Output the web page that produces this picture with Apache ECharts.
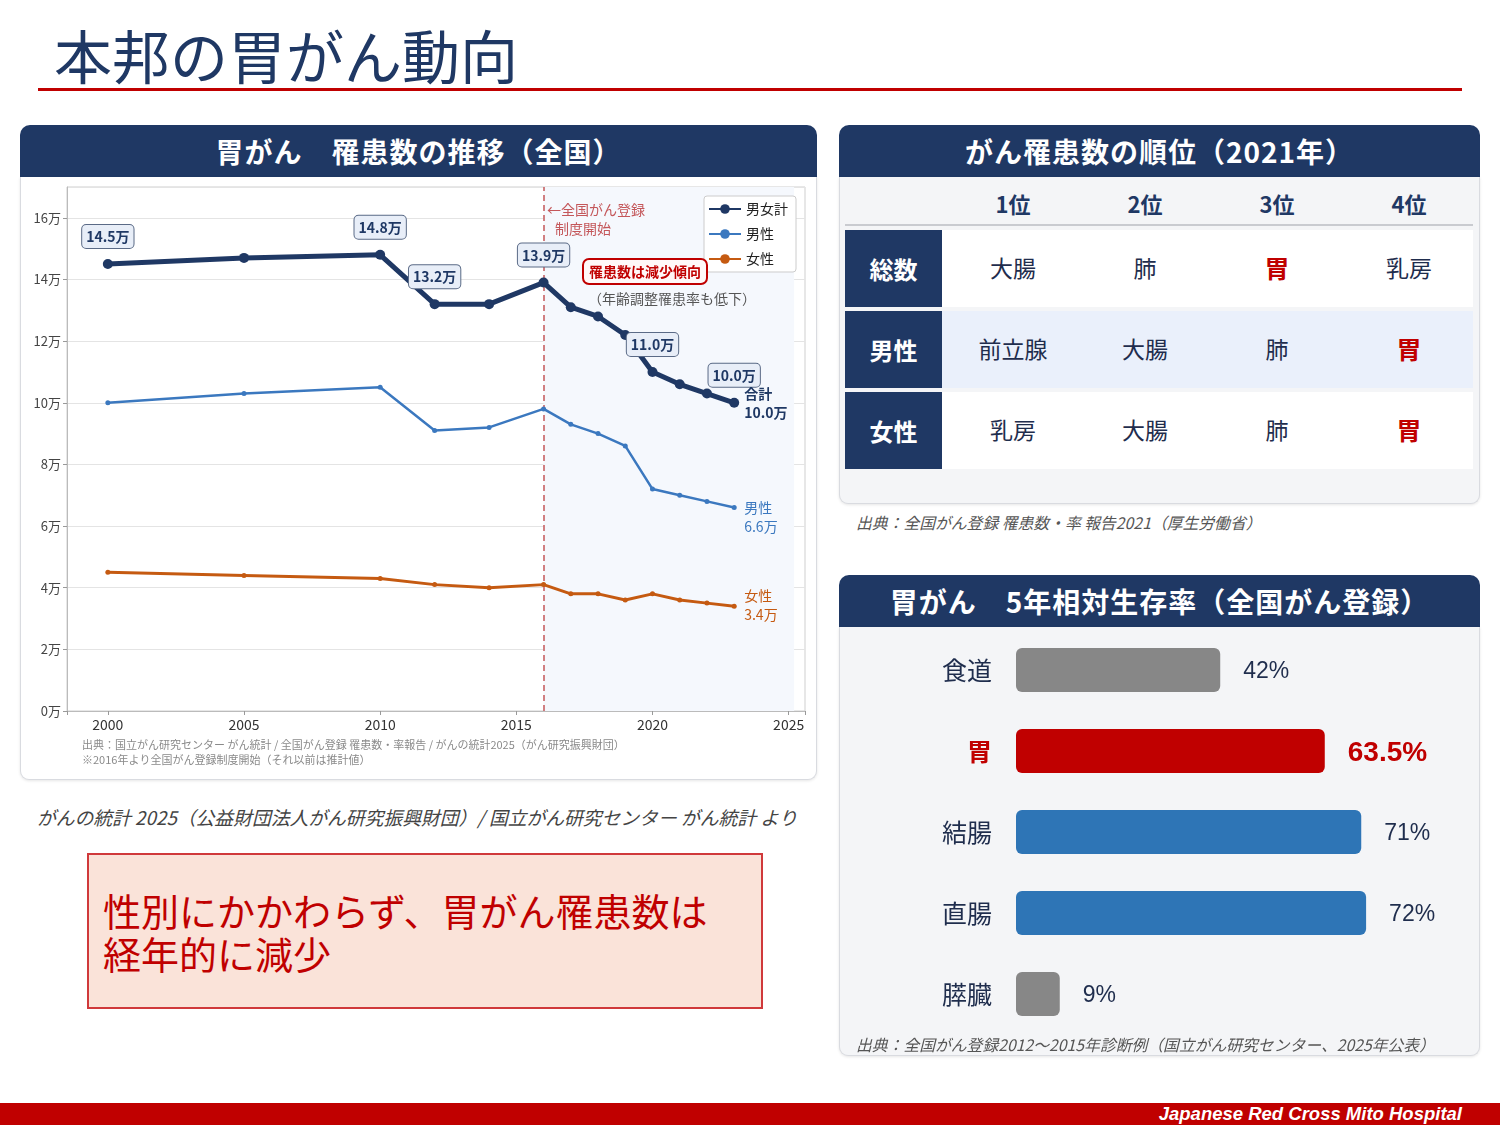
<!DOCTYPE html>
<html><head><meta charset="utf-8">
<script src="https://cdn.jsdelivr.net/npm/echarts@6/dist/echarts.min.js"></script>
<style>
html,body{margin:0;padding:0}
body{width:1500px;height:1125px;position:relative;background:#fff;font-family:"Noto Sans CJK JP","Noto Sans",sans-serif;overflow:hidden;color:#1f2d4d}
.abs{position:absolute}
.title{left:54px;top:20px;font-size:58px;line-height:68px;color:#1f3864;white-space:nowrap}
.rule{left:38px;top:88px;width:1424px;height:3px;background:#c00000}
.hdr{background:#1f3864;color:#fff;font-weight:bold;font-size:28px;letter-spacing:1px;text-align:center;border-radius:10px 10px 0 0;height:52px;line-height:52px;white-space:nowrap}
.panel{border:1px solid #d9dbe0;border-top:none;border-radius:0 0 9px 9px;box-shadow:0 1px 3px rgba(0,0,0,0.10);box-sizing:border-box}
.src{font-style:italic;color:#444;white-space:nowrap}
.cell{display:flex;align-items:center;justify-content:center;box-sizing:border-box;white-space:nowrap}
.footer{left:0;top:1103px;width:1500px;height:22px;background:#c00000}
.footer span{position:absolute;right:38px;top:0;line-height:22px;font-family:"Liberation Sans",Arial,sans-serif;font-weight:bold;font-style:italic;font-size:18.5px;color:#fff}
</style></head>
<body>
<div class="abs title">本邦の胃がん動向</div>
<div class="abs rule"></div>

<div class="abs hdr" style="left:20px;top:125px;width:797px;">胃がん　罹患数の推移（全国）</div>
<div class="abs panel" style="left:20px;top:177px;width:797px;height:603px;background:#fff"></div>
<div id="lineChart" class="abs" style="left:22px;top:178px;width:793px;height:600px;"></div>

<div class="abs src" style="left:37px;top:804px;font-size:18.8px;line-height:26px;">がんの統計 2025（公益財団法人がん研究振興財団）/ 国立がん研究センター がん統計 より</div>
<div class="abs" style="left:87px;top:853px;width:676px;height:156px;box-sizing:border-box;background:#fae3d9;border:2px solid #d0393b;"></div>
<div class="abs" style="left:103px;top:888px;font-size:38px;line-height:43px;color:#c00000;white-space:nowrap">性別にかかわらず、胃がん罹患数は<br>経年的に減少</div>

<div class="abs hdr" style="left:839px;top:125px;width:641px;">がん罹患数の順位（2021年）</div>
<div class="abs panel" style="left:839px;top:177px;width:641px;height:327px;background:#f4f5f7"></div>
<div id="rankTable"></div>
<div class="abs src" style="left:856px;top:512px;font-size:15.8px;line-height:21px;color:#555">出典：全国がん登録 罹患数・率 報告2021（厚生労働省）</div>

<div class="abs hdr" style="left:839px;top:575px;width:641px;">胃がん　5年相対生存率（全国がん登録）</div>
<div class="abs panel" style="left:839px;top:627px;width:641px;height:429px;background:#f4f5f7"></div>
<div id="barChart" class="abs" style="left:840px;top:627px;width:639px;height:428px;"></div>
<div class="abs src" style="left:856px;top:1034px;font-size:15.8px;line-height:21px;color:#555">出典：全国がん登録2012～2015年診断例（国立がん研究センター、2025年公表）</div>

<div class="abs footer"><span>Japanese Red Cross Mito Hospital</span></div>

<script>
// ---------- data ----------
const years = [2000, 2005, 2010, 2012, 2014, 2016, 2017, 2018, 2019, 2020, 2021, 2022, 2023];
const totalCases = [14.5, 14.7, 14.8, 13.2, 13.2, 13.9, 13.1, 12.8, 12.2, 11.0, 10.6, 10.3, 10.0];
const maleCases = [10.0, 10.3, 10.5, 9.1, 9.2, 9.8, 9.3, 9.0, 8.6, 7.2, 7.0, 6.8, 6.6];
const femaleCases = [4.5, 4.4, 4.3, 4.1, 4.0, 4.1, 3.8, 3.8, 3.6, 3.8, 3.6, 3.5, 3.4];
const calloutYears = [2000, 2010, 2012, 2016, 2020, 2023];
const xTickYears = [2000, 2005, 2010, 2015, 2020, 2025];
const seriesNames = ['男女計', '男性', '女性'];
const registryStartYear = 2016;
const registryShadeEnd = 2025.2;

const rankColumns = ['1位', '2位', '3位', '4位'];
const rankGroups = ['総数', '男性', '女性'];
const rankTotal = ['大腸', '肺', '胃', '乳房'];
const rankMale = ['前立腺', '大腸', '肺', '胃'];
const rankFemale = ['乳房', '大腸', '肺', '胃'];
const highlightSite = '胃';

const survivalSites = ['食道', '胃', '結腸', '直腸', '膵臓'];
const survivalRates = [42, 63.5, 71, 72, 9];

// ---------- styles ----------
const FONT = '"Noto Sans CJK JP","Noto Sans",sans-serif';
const NAVY = '#1f3864', BLUE = '#3b78bf', ORANGE = '#c55a11', RED = '#c00000';
const siteColor = {'食道': '#878787', '胃': '#c00000', '結腸': '#2e75b6', '直腸': '#2e75b6', '膵臓': '#878787'};

// ---------- ranking table ----------
(function () {
  const host = document.getElementById('rankTable');
  const rows = [rankTotal, rankMale, rankFemale];
  const colCenter0 = 1013, colStep = 132, colW = 132;
  let html = '';
  rankColumns.forEach((c, j) => {
    html += `<div class="abs cell" style="left:${colCenter0 - colW / 2 + j * colStep}px;top:187px;width:${colW}px;height:32px;font-size:22px;font-weight:bold;color:${NAVY}">${c}</div>`;
  });
  html += `<div class="abs" style="left:845px;top:224px;width:628px;height:2px;background:#c9cbd0"></div>`;
  rankGroups.forEach((g, i) => {
    const top = 230 + i * 81;
    html += `<div class="abs" style="left:942px;top:${top}px;width:531px;height:77px;background:${i % 2 === 1 ? '#eaf0fb' : '#ffffff'}"></div>`;
    html += `<div class="abs cell" style="left:845px;top:${top}px;width:97px;height:77px;background:${NAVY};color:#fff;font-weight:bold;font-size:24px">${g}</div>`;
    rows[i].forEach((s, j) => {
      const hl = s === highlightSite;
      html += `<div class="abs cell" style="left:${colCenter0 - colW / 2 + j * colStep}px;top:${top - 2}px;width:${colW}px;height:77px;font-size:${hl ? 25 : 23}px;font-weight:${hl ? 'bold' : 'normal'};color:${hl ? RED : '#1f2d4d'}">${s}</div>`;
    });
  });
  host.innerHTML = html;
})();

// ---------- line chart ----------
const lineChart = echarts.init(document.getElementById('lineChart'), null, {renderer: 'canvas'});
function pairs(vals) { return years.map((y, i) => [y, vals[i]]); }
const calloutLabel = {
  show: true, position: 'top', distance: 11,
  formatter: p => p.value[1].toFixed(1) + '万',
  fontSize: 14, fontWeight: 'bold', color: NAVY, fontFamily: FONT,
  backgroundColor: '#e8eef8', borderColor: '#5a6a86', borderWidth: 1, borderRadius: 4,
  padding: [5, 4, 4, 4]
};
const totalData = years.map((y, i) => calloutYears.includes(y)
  ? {value: [y, totalCases[i]], label: calloutLabel}
  : {value: [y, totalCases[i]]});
const lastIdx = years.length - 1;

lineChart.setOption({
  animation: false,
  textStyle: {fontFamily: FONT},
  grid: {left: 45, right: 10, top: 9, bottom: 67, show: true, borderColor: '#cfcfcf', borderWidth: 1},
  legend: {
    data: seriesNames, orient: 'vertical', right: 19, top: 18,
    backgroundColor: '#fff', borderColor: '#cccccc', borderWidth: 1, borderRadius: 3,
    padding: [6, 8, 6, 4], itemWidth: 32, itemHeight: 12, itemGap: 11,
    textStyle: {fontSize: 14, color: '#222', fontFamily: FONT}
  },
  xAxis: {
    type: 'value', min: 1998.5, max: 2025.6,
    axisLine: {show: true, lineStyle: {color: '#bbbbbb'}},
    axisTick: {show: true, length: 4, lineStyle: {color: '#999'}},
    splitLine: {show: false},
    axisLabel: {
      fontSize: 14, color: '#333', margin: 7,
      formatter: v => xTickYears.includes(v) ? String(v) : '',
      showMinLabel: true, showMaxLabel: true
    }
  },
  yAxis: {
    type: 'value', min: 0, max: 17, interval: 2,
    axisLine: {show: true, lineStyle: {color: '#bbbbbb'}},
    axisTick: {show: true, length: 4, lineStyle: {color: '#999'}},
    splitLine: {show: true, lineStyle: {color: '#e4e4e4'}},
    axisLabel: {fontSize: 13, color: '#444', margin: 6, showMaxLabel: false, formatter: v => v + '万'}
  },
  series: [
    {
      name: '女性', type: 'line', data: pairs(femaleCases),
      symbol: 'circle', symbolSize: 5, color: ORANGE,
      lineStyle: {width: 3, color: ORANGE}, itemStyle: {color: ORANGE},
      endLabel: {show: true, distance: 10, offset: [0, -1], color: ORANGE, fontSize: 14, lineHeight: 19,
        formatter: () => '女性\n' + femaleCases[lastIdx].toFixed(1) + '万'},
      markArea: {silent: true, z: 1, itemStyle: {color: '#f5f8fd'},
        data: [[{xAxis: registryStartYear}, {xAxis: registryShadeEnd}]]},
      markLine: {silent: true, z: 1.5, symbol: ['none', 'none'], label: {show: false},
        lineStyle: {type: [6, 4], color: '#c4575a', width: 1.5},
        data: [{xAxis: registryStartYear}]}
    },
    {
      name: '男性', type: 'line', data: pairs(maleCases),
      symbol: 'circle', symbolSize: 5, color: BLUE,
      lineStyle: {width: 2.5, color: BLUE}, itemStyle: {color: BLUE},
      endLabel: {show: true, distance: 10, offset: [0, 10], color: BLUE, fontSize: 14, lineHeight: 19,
        formatter: () => '男性\n' + maleCases[lastIdx].toFixed(1) + '万'}
    },
    {
      name: '男女計', type: 'line', data: totalData,
      symbol: 'circle', symbolSize: 10, color: NAVY,
      lineStyle: {width: 5, color: NAVY}, itemStyle: {color: NAVY},
      endLabel: {show: true, distance: 10, offset: [0, 0], color: NAVY, fontSize: 14, fontWeight: 'bold', lineHeight: 19,
        formatter: () => '合計\n' + totalCases[lastIdx].toFixed(1) + '万'}
    }
  ],
  graphic: [
    {type: 'text', left: 525, top: 25, z: 100, silent: true,
      style: {text: '←全国がん登録', fontSize: 14, fontFamily: FONT, fill: '#c4575a'}},
    {type: 'text', left: 533, top: 44, z: 100, silent: true,
      style: {text: '制度開始', fontSize: 14, fontFamily: FONT, fill: '#c4575a'}},
    {type: 'text', left: 560, top: 80, z: 100, silent: true,
      style: {text: '罹患数は減少傾向', fontSize: 14, fontWeight: 'bold', fontFamily: FONT, fill: RED,
        backgroundColor: '#fff8f8', borderColor: RED, borderWidth: 2, borderRadius: 5, padding: [5, 5, 4, 5]}},
    {type: 'text', left: 566, top: 114, z: 100, silent: true,
      style: {text: '（年齢調整罹患率も低下）', fontSize: 14, fontFamily: FONT, fill: '#555'}},
    {type: 'text', left: 60, top: 561, z: 100, silent: true,
      style: {text: '出典：国立がん研究センター がん統計 / 全国がん登録 罹患数・率報告 / がんの統計2025（がん研究振興財団）', fontSize: 11, fontFamily: FONT, fill: '#8a8a8a'}},
    {type: 'text', left: 60, top: 576, z: 100, silent: true,
      style: {text: '※2016年より全国がん登録制度開始（それ以前は推計値）', fontSize: 11, fontFamily: FONT, fill: '#8a8a8a'}}
  ]
});

// ---------- bar chart ----------
const barChart = echarts.init(document.getElementById('barChart'), null, {renderer: 'canvas'});
barChart.setOption({
  animation: false,
  textStyle: {fontFamily: FONT},
  grid: {left: 176, right: 74, top: 2.5, bottom: 20.5},
  xAxis: {type: 'value', min: 0, max: 80, show: false},
  yAxis: {
    type: 'category', data: survivalSites, inverse: true,
    axisLine: {show: false}, axisTick: {show: false},
    axisLabel: {
      margin: 24,
      formatter: v => v === highlightSite ? '{hl|' + v + '}' : '{n|' + v + '}',
      rich: {
        n: {fontSize: 25, color: '#1f2d4d', fontFamily: FONT},
        hl: {fontSize: 25, color: RED, fontWeight: 'bold', fontFamily: FONT}
      }
    }
  },
  series: [{
    type: 'bar', barWidth: 44,
    data: survivalSites.map((s, i) => ({value: survivalRates[i], itemStyle: {color: siteColor[s], borderRadius: 6}})),
    label: {
      show: true, position: 'right', distance: 23, offset: [0, 2],
      formatter: p => p.name === highlightSite ? '{hl|' + p.value + '%}' : '{n|' + p.value + '%}',
      rich: {
        n: {fontSize: 23, color: '#1f2d4d', fontFamily: '"Liberation Sans",Arial,sans-serif'},
        hl: {fontSize: 28, color: RED, fontWeight: 'bold', fontFamily: '"Liberation Sans",Arial,sans-serif'}
      }
    }
  }]
});
</script>
</body></html>
